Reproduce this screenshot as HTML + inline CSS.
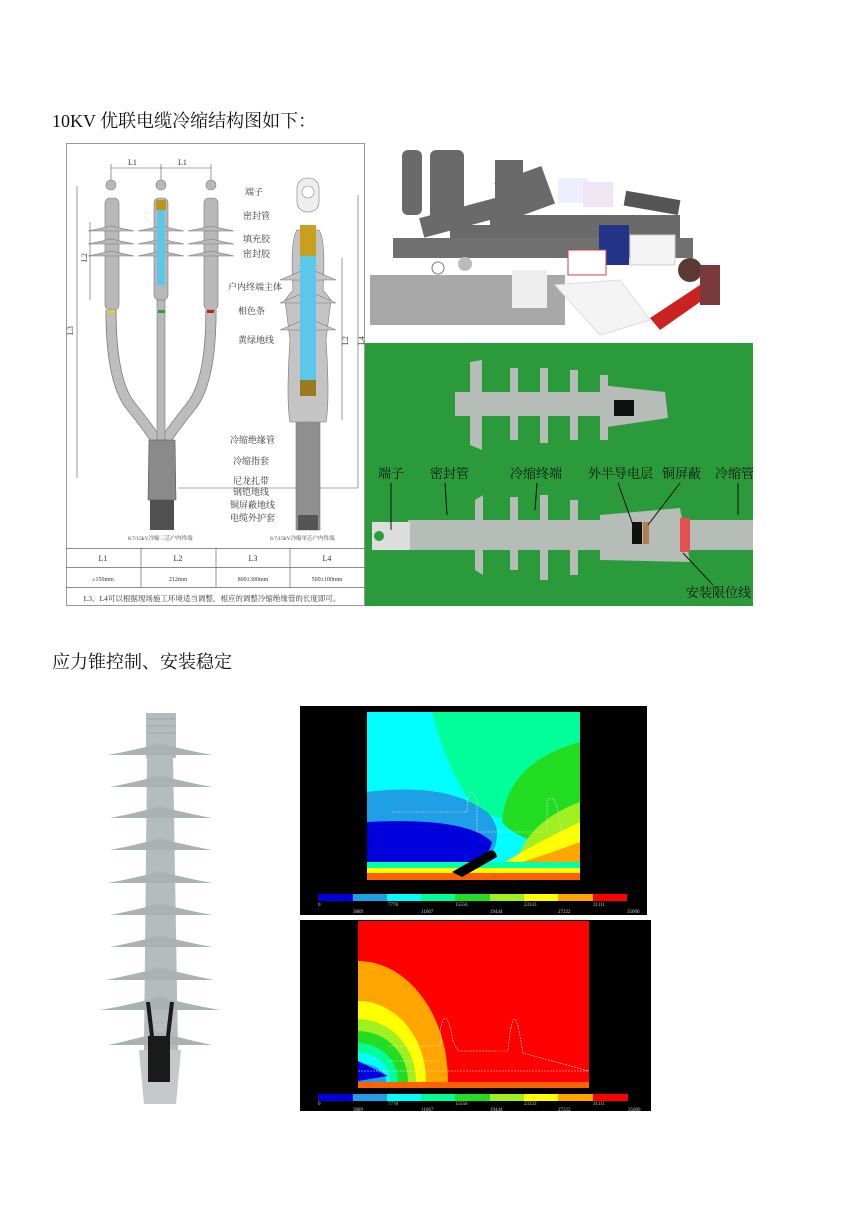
<!DOCTYPE html>
<html><head><meta charset="utf-8"><style>
body{margin:0;background:#fff;}
svg text{font-family:"Liberation Serif","Noto Serif CJK SC",serif;}
</style></head><body>
<svg width="860" height="1216" viewBox="0 0 860 1216" xmlns="http://www.w3.org/2000/svg">
<rect width="860" height="1216" fill="#fff"/>
<text x="52" y="127" font-size="18" fill="#111">10KV 优联电缆冷缩结构图如下：</text>
<text x="52" y="668" font-size="18" fill="#111">应力锥控制、安装稳定</text>

<!-- Left diagram -->
<rect x="66.5" y="143.5" width="298" height="462" fill="#fff" stroke="#999"/>
<g stroke="#555" stroke-width="0.6" fill="none">
<line x1="111" y1="168" x2="211" y2="168"/><line x1="111" y1="164" x2="111" y2="180"/><line x1="161" y1="164" x2="161" y2="180"/><line x1="211" y1="164" x2="211" y2="180"/>
<line x1="77" y1="186" x2="77" y2="478"/><line x1="90" y1="222" x2="90" y2="300"/>
<line x1="342" y1="258" x2="342" y2="420"/><line x1="358" y1="195" x2="358" y2="488"/>
<line x1="178" y1="488" x2="358" y2="488"/>
</g>
<text x="128" y="165" font-size="8" fill="#333">L1</text><text x="178" y="165" font-size="8" fill="#333">L1</text>
<text x="73" y="335" font-size="8" fill="#333" transform="rotate(-90 73 335)">L3</text>
<text x="87" y="262" font-size="8" fill="#333" transform="rotate(-90 87 262)">L2</text>
<text x="348" y="345" font-size="8" fill="#333" transform="rotate(-90 348 345)">L2</text>
<text x="364" y="345" font-size="8" fill="#333" transform="rotate(-90 364 345)">L4</text>
<g fill="none" stroke-linecap="butt">
<path d="M111 310 Q111 380 130 405 Q150 430 156 440" stroke="#777" stroke-width="11"/>
<path d="M111 310 Q111 380 130 405 Q150 430 156 440" stroke="#bdbdbd" stroke-width="9.5"/>
<path d="M211 310 Q211 380 192 405 Q172 430 166 440" stroke="#777" stroke-width="11"/>
<path d="M211 310 Q211 380 192 405 Q172 430 166 440" stroke="#bdbdbd" stroke-width="9.5"/>
</g>
<g fill="#b8b8b8" stroke="#777" stroke-width="0.6">
<rect x="157" y="300" width="8" height="140"/>
<rect x="105" y="198" width="14" height="112" rx="5"/>
<rect x="154" y="198" width="14" height="102" rx="5"/>
<rect x="204" y="198" width="14" height="112" rx="5"/>
<path d="M88 231 L134 231 L111 226Z M88 244 L134 244 L111 239Z M88 256 L134 256 L111 251Z"/>
<path d="M138 231 L184 231 L161 226Z M138 244 L184 244 L161 239Z M138 256 L184 256 L161 251Z"/>
<path d="M188 231 L234 231 L211 226Z M188 244 L234 244 L211 239Z M188 256 L234 256 L211 251Z"/>
<circle cx="111" cy="185" r="5"/><circle cx="161" cy="185" r="5"/><circle cx="211" cy="185" r="5"/>
</g>
<rect x="157" y="207" width="8" height="78" fill="#5bc8ea"/>
<rect x="156" y="200" width="10" height="10" fill="#b8961c"/>
<rect x="108" y="310" width="7" height="3" fill="#e6d21c"/><rect x="158" y="310" width="7" height="3" fill="#2aa03a"/><rect x="207" y="310" width="7" height="3" fill="#c02020"/>
<path d="M149 440 L175 440 L176 500 L148 500Z" fill="#8a8a8a" stroke="#555" stroke-width="0.6"/>
<rect x="150" y="500" width="24" height="30" fill="#505050"/>
<!-- single core -->
<g stroke="#777" stroke-width="0.6">
<rect x="296" y="412" width="24" height="118" fill="#8f8f8f"/>
<path d="M297 230 Q290 240 293 290 L285 300 L290 340 Q286 400 290 422 L326 422 Q330 400 326 340 L331 300 L323 290 Q326 240 319 230Z" fill="#c4c4c4"/>
<path d="M280 280 L336 280 L308 268Z M280 303 L336 303 L308 291Z M280 330 L336 330 L308 318Z" fill="#c4c4c4"/>
<rect x="297" y="178" width="22" height="34" rx="10" fill="#eee"/>
</g>
<circle cx="308" cy="192" r="6" fill="#fff" stroke="#888" stroke-width="0.6"/>
<rect x="300" y="225" width="16" height="32" fill="#c8a020"/>
<rect x="300" y="256" width="16" height="124" fill="#5bc8ea"/>
<rect x="300" y="380" width="16" height="16" fill="#9a7a20"/>
<rect x="298" y="515" width="20" height="15" fill="#555"/>
<g font-size="9" fill="#333">
<text x="245" y="195">端子</text><text x="243" y="219">密封管</text><text x="243" y="242">填充胶</text><text x="243" y="257">密封胶</text>
<text x="228" y="290">户内终端主体</text><text x="238" y="314">相色条</text><text x="238" y="343">黄绿地线</text>
<text x="230" y="443">冷缩绝缘管</text><text x="233" y="464">冷缩指套</text><text x="233" y="484">尼龙扎带</text>
<text x="233" y="495">钢铠地线</text><text x="230" y="508">铜屏蔽地线</text><text x="230" y="521">电缆外护套</text>
<text x="128" y="540" font-size="5.5">8.7/15kV冷缩三芯户内终端</text><text x="270" y="540" font-size="5.5">8.7/15kV冷缩单芯户内终端</text>
</g>
<g stroke="#666" stroke-width="0.7" fill="none">
<line x1="66" y1="548.5" x2="365" y2="548.5"/><line x1="66" y1="567.5" x2="365" y2="567.5"/><line x1="66" y1="587.5" x2="365" y2="587.5"/>
<line x1="141" y1="548" x2="141" y2="587"/><line x1="216" y1="548" x2="216" y2="587"/><line x1="290" y1="548" x2="290" y2="587"/>
</g>
<g font-size="8" fill="#333" text-anchor="middle">
<text x="103" y="561">L1</text><text x="178" y="561">L2</text><text x="253" y="561">L3</text><text x="327" y="561">L4</text>
<text x="103" y="581" font-size="6">≥150mm</text><text x="178" y="581" font-size="6">212mm</text><text x="253" y="581" font-size="6">800±300mm</text><text x="327" y="581" font-size="6">500±100mm</text>
<text x="212" y="601" font-size="7.5">L3、L4可以根据现场施工环境适当调整，相应的调整冷缩绝缘管的长度即可。</text>
</g>

<!-- top right photo -->
<rect x="365" y="143" width="388" height="200" fill="#fff"/>
<g fill="#6a6a6a">
<rect x="402" y="150" width="20" height="65" rx="6"/>
<rect x="430" y="150" width="34" height="75" rx="6"/>
<rect x="495" y="160" width="28" height="45"/>
<rect x="500" y="175" width="50" height="40" transform="rotate(-20 520 195)"/>
<rect x="420" y="205" width="110" height="20" transform="rotate(-15 470 215)"/>
<rect x="490" y="215" width="190" height="16"/>
<rect x="450" y="225" width="230" height="18"/>
<rect x="393" y="238" width="300" height="20" fill="#707070"/>
</g>
<rect x="558" y="178" width="30" height="25" fill="#eef"/><rect x="583" y="182" width="30" height="25" fill="#f0e6f3"/>
<rect x="625" y="195" width="55" height="15" fill="#555" transform="rotate(10 650 200)"/>
<rect x="599" y="225" width="30" height="40" fill="#223388"/>
<rect x="630" y="235" width="45" height="30" fill="#f4f4f4" stroke="#ccc"/>
<rect x="568" y="250" width="38" height="25" fill="#fff" stroke="#c44" stroke-width="1"/>
<rect x="370" y="275" width="195" height="50" fill="#a8a8a8"/>
<path d="M555 285 L620 280 L650 320 L600 335Z" fill="#f4f4f4" stroke="#ddd"/>
<rect x="512" y="270" width="35" height="38" fill="#eee"/>
<path d="M650 318 L700 285 L710 295 L660 330Z" fill="#c22"/>
<circle cx="690" cy="270" r="12" fill="#5a3a30"/><rect x="700" y="265" width="20" height="40" fill="#7a3a3a"/>
<circle cx="438" cy="268" r="6" fill="#fff" stroke="#778"/><circle cx="465" cy="264" r="7" fill="#bbb"/>

<!-- green photo -->
<rect x="365" y="343" width="388" height="263" fill="#2a9a3a"/>
<g fill="#b6bcb8">
<rect x="455" y="392" width="210" height="24"/>
<path d="M470 362 L482 360 L482 450 L470 445Z M510 368 L518 368 L518 440 L510 440Z M540 368 L548 368 L548 443 L540 443Z M570 370 L578 370 L578 440 L570 440Z M600 375 L608 375 L608 440 L600 440Z"/>
<path d="M600 385 L665 392 L668 418 L600 428Z"/>
<rect x="408" y="520" width="345" height="30"/>
<rect x="372" y="522" width="38" height="28" fill="#ddd"/>
<path d="M475 500 L483 495 L483 575 L475 570Z M510 497 L518 497 L518 570 L510 570Z M540 495 L548 495 L548 580 L540 580Z M570 500 L578 500 L578 575 L570 575Z"/>
<path d="M600 515 L680 508 L690 562 L600 560Z"/>
</g>
<rect x="614" y="400" width="20" height="16" fill="#111"/>
<rect x="632" y="522" width="10" height="22" fill="#111"/><rect x="643" y="522" width="6" height="22" fill="#b08050"/>
<rect x="680" y="518" width="10" height="34" fill="#e25050"/>
<circle cx="379" cy="536" r="5" fill="#2a9a3a"/>
<g font-size="13" fill="#111">
<text x="378" y="478">端子</text><text x="430" y="478">密封管</text><text x="510" y="478">冷缩终端</text>
<text x="588" y="478">外半导电层</text><text x="662" y="478">铜屏蔽</text><text x="715" y="478">冷缩管</text>
<text x="686" y="597">安装限位线</text>
</g>
<g stroke="#111" stroke-width="1" fill="none">
<line x1="391" y1="483" x2="391" y2="530"/><line x1="445" y1="483" x2="447" y2="515"/><line x1="537" y1="483" x2="535" y2="510"/>
<line x1="618" y1="483" x2="633" y2="525"/><line x1="680" y1="483" x2="648" y2="525"/><line x1="738" y1="483" x2="738" y2="515"/>
<line x1="713" y1="585" x2="683" y2="553"/>
</g>

<!-- insulator -->
<g fill="#b4bcbc">
<rect x="146" y="713" width="30" height="45"/>
<path d="M147 755 L173 755 L178 1050 L144 1050Z"/>
<path d="M139 1050 L181 1050 L176 1104 L144 1104Z" fill="#c4c8c8"/>
</g>
<g fill="#aab2b2">
<path d="M108 755 Q145 748 160 743 Q175 748 212 755 Z"/>
<path d="M110 787 Q145 780 160 775 Q175 780 212 787 Z"/>
<path d="M110 818 Q145 811 160 806 Q175 811 212 818 Z"/>
<path d="M110 850 Q145 843 160 838 Q175 843 212 850 Z"/>
<path d="M108 883 Q145 876 160 871 Q175 876 212 883 Z"/>
<path d="M110 915 Q145 908 160 903 Q175 908 212 915 Z"/>
<path d="M110 947 Q145 940 160 935 Q175 940 212 947 Z"/>
<path d="M106 980 Q145 972 160 967 Q175 972 214 980 Z"/>
<path d="M100 1010 Q140 1003 160 996 Q180 1003 220 1010 Z"/>
<path d="M108 1045 Q140 1038 160 1032 Q180 1038 212 1045 Z"/>
</g>
<g stroke="#9aa" stroke-width="1"><line x1="147" y1="719" x2="175" y2="719"/><line x1="147" y1="726" x2="175" y2="726"/><line x1="147" y1="733" x2="175" y2="733"/></g>
<rect x="148" y="1036" width="22" height="46" fill="#1a1a1a"/>
<path d="M146 1002 Q148 1020 150 1036 L154 1036 Q152 1018 150 1002Z M174 1002 Q172 1020 170 1036 L166 1036 Q168 1018 170 1002Z" fill="#1a1a1a"/>

<!-- sim 1 -->
<rect x="300" y="706" width="347" height="209" fill="#000"/>
<svg x="367" y="712" width="213" height="168" viewBox="0 0 213 168">
<rect width="213" height="168" fill="#00ffff"/>
<path d="M65 0 Q80 60 110 100 Q150 110 213 130 L213 0Z" fill="#00ff99"/>
<path d="M213 30 Q140 50 135 110 Q150 130 213 140Z" fill="#22dd22"/>
<path d="M213 90 Q160 110 150 150 L213 150Z" fill="#a0f020"/>
<path d="M213 110 Q170 130 130 155 L213 158Z" fill="#ffff00"/>
<path d="M213 130 Q160 150 120 160 L213 163Z" fill="#ffa500"/>
<path d="M213 150 Q150 160 100 165 L213 168Z" fill="#ff0000"/>
<path d="M0 80 Q80 70 120 100 Q140 120 120 150 L0 150Z" fill="#1e9fe6"/>
<path d="M0 110 Q100 105 125 130 Q120 155 80 150 L0 150Z" fill="#0000dd"/>
<rect x="0" y="150" width="213" height="6" fill="#00ffaa"/><rect x="0" y="156" width="213" height="5" fill="#ffff00"/><rect x="0" y="161" width="213" height="7" fill="#ff6000"/>
<path d="M85 160 L120 140 Q128 135 130 145 L95 165Z" fill="#000"/>
<path d="M25 100 L100 100 Q100 90 102 80 Q108 80 110 90 L110 120 L180 120 L180 90 Q185 80 190 95 L195 120 L213 125" fill="none" stroke="#ddd" stroke-width="0.6" stroke-dasharray="2 1"/>
</svg>
<g>
<rect x="318" y="894" width="35" height="7" fill="#0000dd"/><rect x="353" y="894" width="34" height="7" fill="#1e9fe6"/><rect x="387" y="894" width="34" height="7" fill="#00ffff"/><rect x="421" y="894" width="34" height="7" fill="#00ff99"/><rect x="455" y="894" width="35" height="7" fill="#22dd22"/><rect x="490" y="894" width="34" height="7" fill="#a0f020"/><rect x="524" y="894" width="34" height="7" fill="#ffff00"/><rect x="558" y="894" width="35" height="7" fill="#ffa500"/><rect x="593" y="894" width="34" height="7" fill="#ff0000"/>
</g>
<g font-size="5" fill="#ccc" style="font-family:'Liberation Mono',monospace">
<text x="318" y="906">0</text><text x="388" y="906">7778</text><text x="455" y="906">15556</text><text x="524" y="906">23333</text><text x="593" y="906">31111</text>
<text x="353" y="913">3889</text><text x="421" y="913">11667</text><text x="490" y="913">19444</text><text x="558" y="913">27222</text><text x="627" y="913">35000</text>
</g>

<!-- sim 2 -->
<rect x="300" y="920" width="351" height="191" fill="#000"/>
<svg x="358" y="921" width="231" height="167" viewBox="0 0 231 167">
<rect width="231" height="167" fill="#ff0000"/>
<ellipse cx="0" cy="160" rx="90" ry="120" fill="#ffa500"/>
<ellipse cx="0" cy="160" rx="68" ry="80" fill="#ffff00"/>
<ellipse cx="0" cy="160" rx="58" ry="62" fill="#a0f020"/>
<ellipse cx="0" cy="160" rx="50" ry="50" fill="#22dd22"/>
<ellipse cx="0" cy="160" rx="40" ry="38" fill="#00ff99"/>
<ellipse cx="0" cy="160" rx="32" ry="28" fill="#00ffff"/>
<ellipse cx="0" cy="160" rx="28" ry="18" fill="#1e9fe6"/>
<path d="M0 140 L30 155 L0 160Z" fill="#0000dd"/>
<rect x="0" y="161" width="231" height="6" fill="#ff6000"/>
<path d="M30 125 L80 125 Q85 125 82 110 Q88 80 95 120 L100 130 L150 130 Q155 75 162 115 L165 132 L231 150 M30 140 L80 140 M0 150 L231 150" fill="none" stroke="#eee" stroke-width="0.6" stroke-dasharray="2 1"/>
</svg>
<g>
<rect x="318" y="1094" width="35" height="7" fill="#0000dd"/><rect x="353" y="1094" width="34" height="7" fill="#1e9fe6"/><rect x="387" y="1094" width="34" height="7" fill="#00ffff"/><rect x="421" y="1094" width="34" height="7" fill="#00ff99"/><rect x="455" y="1094" width="35" height="7" fill="#22dd22"/><rect x="490" y="1094" width="34" height="7" fill="#a0f020"/><rect x="524" y="1094" width="34" height="7" fill="#ffff00"/><rect x="558" y="1094" width="35" height="7" fill="#ffa500"/><rect x="593" y="1094" width="35" height="7" fill="#ff0000"/>
</g>
<g font-size="5" fill="#ccc" style="font-family:'Liberation Mono',monospace">
<text x="318" y="1105">0</text><text x="388" y="1105">7778</text><text x="455" y="1105">15556</text><text x="524" y="1105">23333</text><text x="593" y="1105">31111</text>
<text x="353" y="1111">3889</text><text x="421" y="1111">11667</text><text x="490" y="1111">19444</text><text x="558" y="1111">27222</text><text x="628" y="1111">35000</text>
</g>
</svg>
</body></html>
